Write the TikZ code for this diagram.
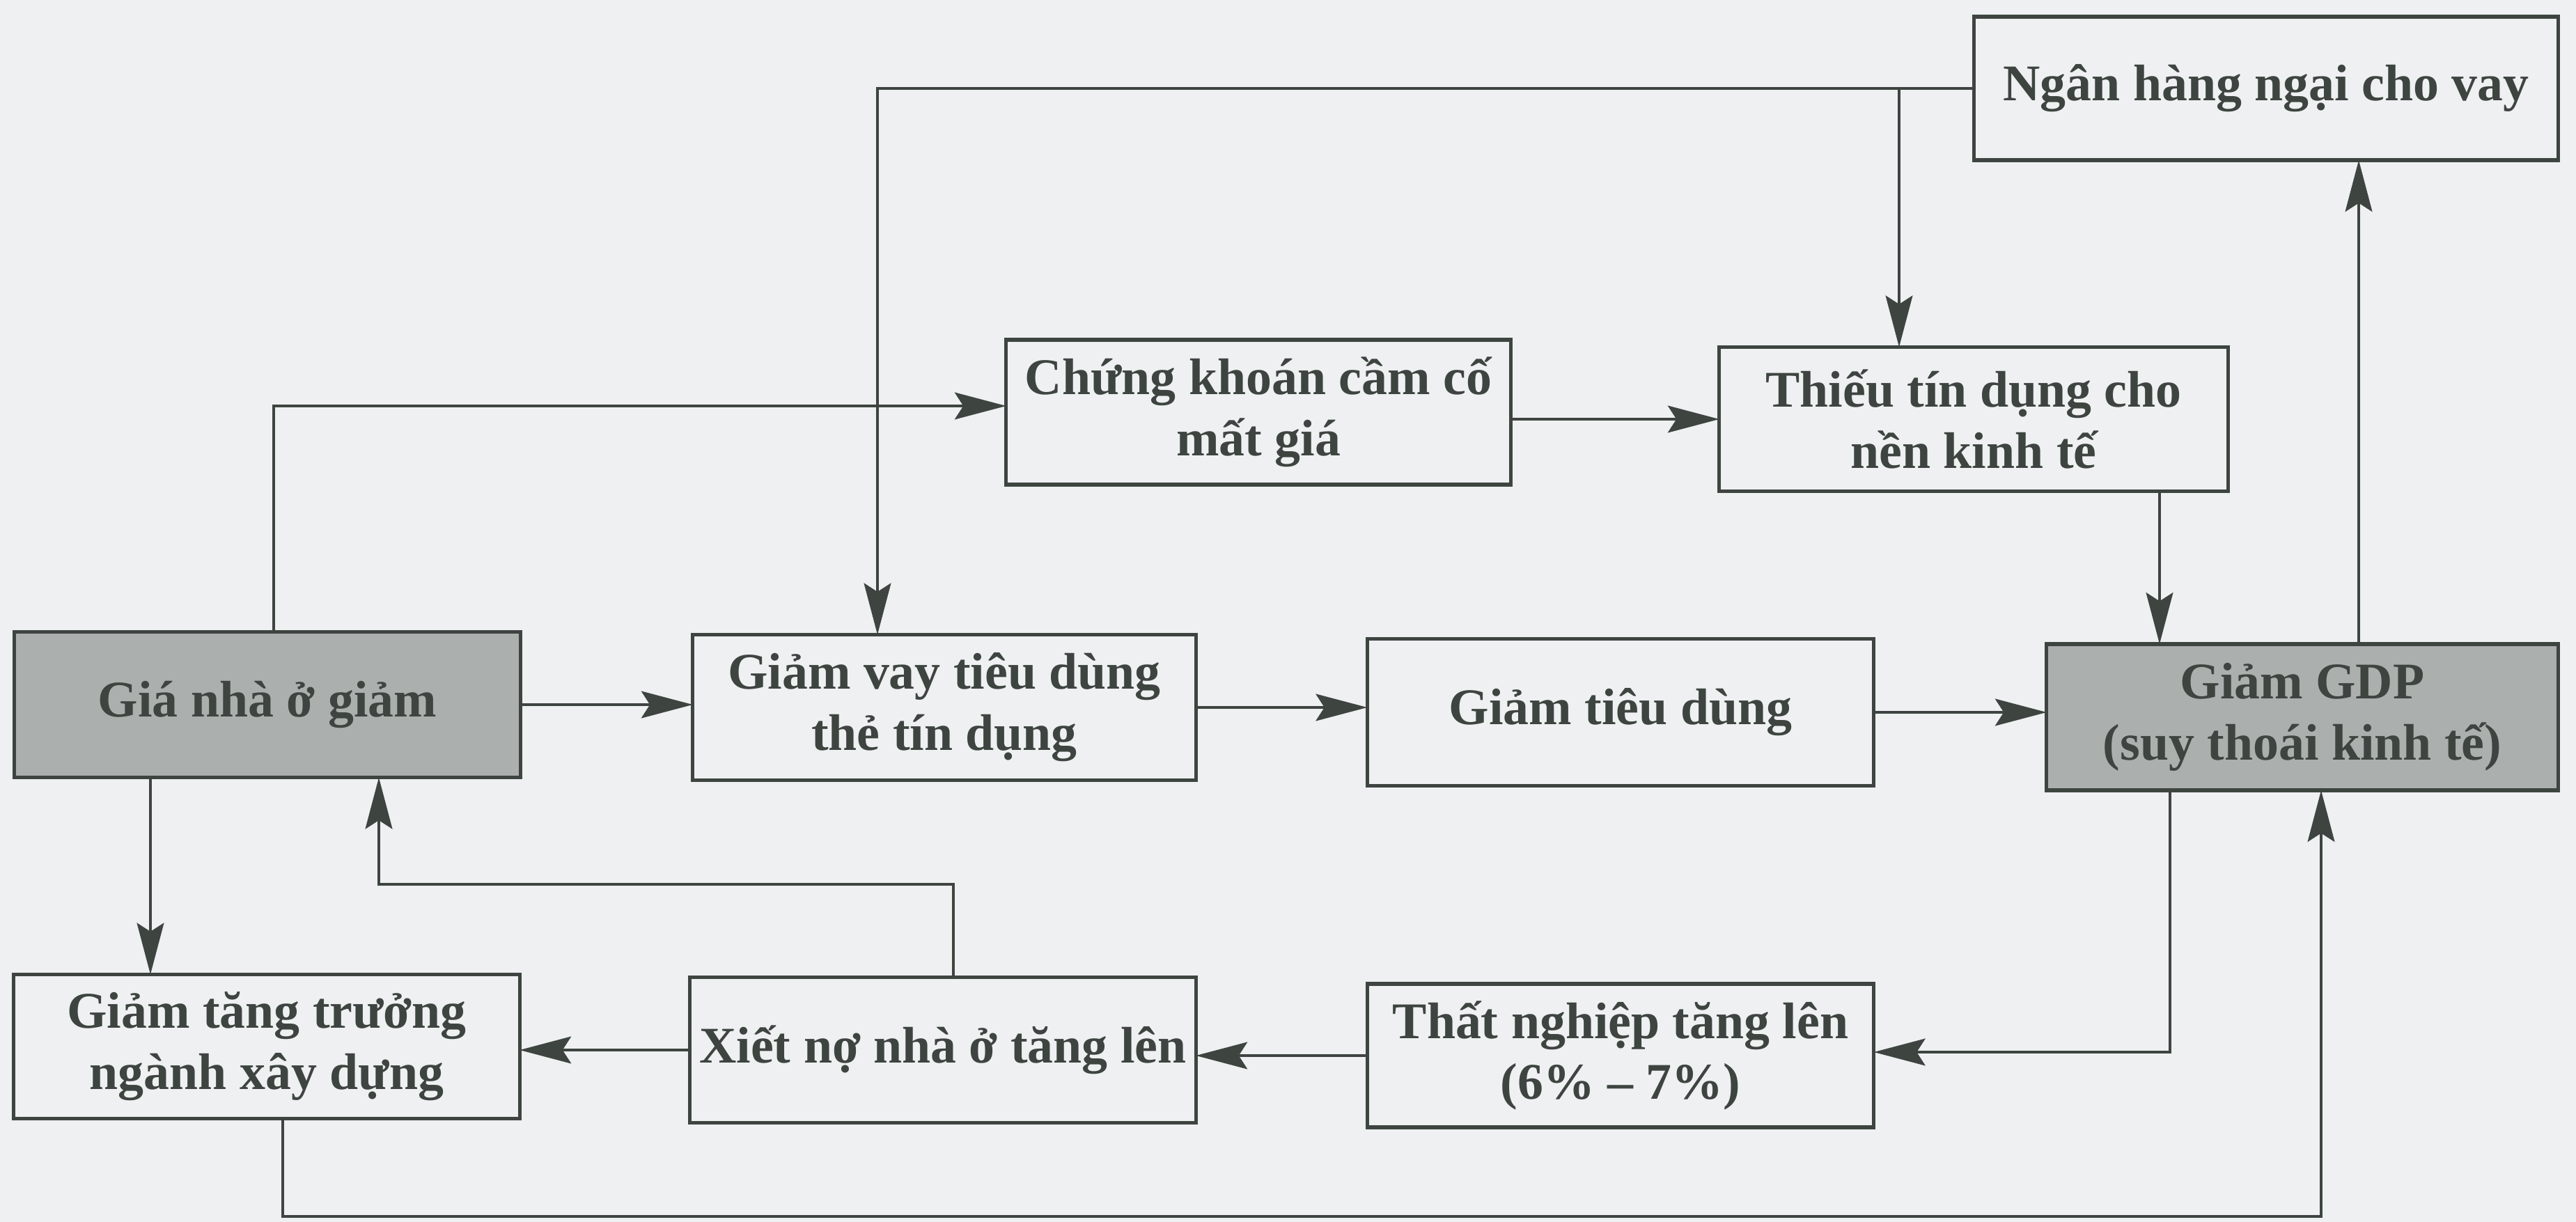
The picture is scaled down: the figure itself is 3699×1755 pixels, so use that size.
\documentclass[tikz,border=0pt]{standalone}
\usepackage{fontspec}
\setmainfont{Liberation Serif}
\usetikzlibrary{arrows.meta}
\definecolor{bg}{HTML}{EEF0F1}
\definecolor{ink}{HTML}{3E4540}
\definecolor{shade}{HTML}{ABAFAE}
\tikzset{
  box/.style={draw=ink, line width=1.5pt, rectangle, inner sep=0pt, outer sep=0pt,
    align=center, text=ink, font=\bfseries\fontsize{21}{25}\selectfont},
  shadedbox/.style={box, fill=shade},
  arr/.style={draw=ink, line width=1.2pt, -{Stealth[length=21pt, width=11pt, inset=3.5pt]}},
  ln/.style={draw=ink, line width=1.2pt}
}
\begin{document}
\begin{tikzpicture}[x=0.01cm, y=-0.01cm]
\fill[bg] (0,0) rectangle (3699,1755);
\useasboundingbox (0,0) rectangle (3699,1755);

\node[box, minimum width=8.38cm, minimum height=2.06cm] (ngan) at (3254,127) {Ngân hàng ngại cho vay};
\node[box, minimum width=7.24cm, minimum height=2.08cm] (chung) at (1807,592) {Chứng khoán cầm cố\\mất giá};
\node[box, minimum width=7.30cm, minimum height=2.07cm] (thieu) at (2834,602) {Thiếu tín dụng cho\\nền kinh tế};
\node[shadedbox, minimum width=7.26cm, minimum height=2.09cm] (gianha) at (384,1012) {Giá nhà ở giảm};
\node[box, minimum width=7.22cm, minimum height=2.09cm] (vay) at (1356,1016) {Giảm vay tiêu dùng\\thẻ tín dụng};
\node[box, minimum width=7.27cm, minimum height=2.11cm] (tieudung) at (2327,1023) {Giảm tiêu dùng};
\node[shadedbox, minimum width=7.34cm, minimum height=2.10cm] (gdp) at (3306,1030) {Giảm GDP\\(suy thoái kinh tế)};
\node[box, minimum width=7.26cm, minimum height=2.07cm] (xaydung) at (383,1503) {Giảm tăng trưởng\\ngành xây dựng};
\node[box, minimum width=7.26cm, minimum height=2.09cm] (xietno) at (1354,1508) {Xiết nợ nhà ở tăng lên};
\node[box, minimum width=7.27cm, minimum height=2.06cm] (thatnghiep) at (2327,1516) {Thất nghiệp tăng lên\\(6\% – 7\%)};

\coordinate (c1) at (1260,127);
\coordinate (c2) at (2727,127);
\coordinate (c3) at (393,583);
\coordinate (c4) at (3101,0);
\coordinate (c5) at (3387,0);
\coordinate (c9) at (3116,1511);
\coordinate (c12a) at (1369,1270);
\coordinate (c12b) at (544,1270);
\coordinate (c13) at (216,0);
\coordinate (c14a) at (406,1747);
\coordinate (c14b) at (3333,1747);

\draw[arr] (ngan.west) -- (c1) -- (c1 |- vay.north);
\draw[arr] (c2) -- (c2 |- thieu.north);
\draw[arr] (c3 |- gianha.north) -- (c3) -- (c3 -| chung.west);
\draw[arr] (thieu.west -| chung.east) -- (thieu.west);
\draw[arr] (thieu.south -| c4) -- (gdp.north -| c4);
\draw[arr] (gdp.north -| c5) -- (ngan.south -| c5);
\draw[arr] (gianha.east) -- (gianha.east -| vay.west);
\draw[arr] (vay.east) -- (vay.east -| tieudung.west);
\draw[arr] (tieudung.east) -- (tieudung.east -| gdp.west);
\draw[arr] (gdp.south -| c9) -- (c9) -- (c9 -| thatnghiep.east);
\draw[arr] (thatnghiep.west) -- (thatnghiep.west -| xietno.east);
\draw[arr] (xietno.west) -- (xietno.west -| xaydung.east);
\draw[arr] (xietno.north -| c12a) -- (c12a) -- (c12b) -- (c12b |- gianha.south);
\draw[arr] (gianha.south -| c13) -- (xaydung.north -| c13);
\draw[arr] (xaydung.south -| c14a) -- (c14a) -- (c14b) -- (c14b |- gdp.south);
\end{tikzpicture}
\end{document}
